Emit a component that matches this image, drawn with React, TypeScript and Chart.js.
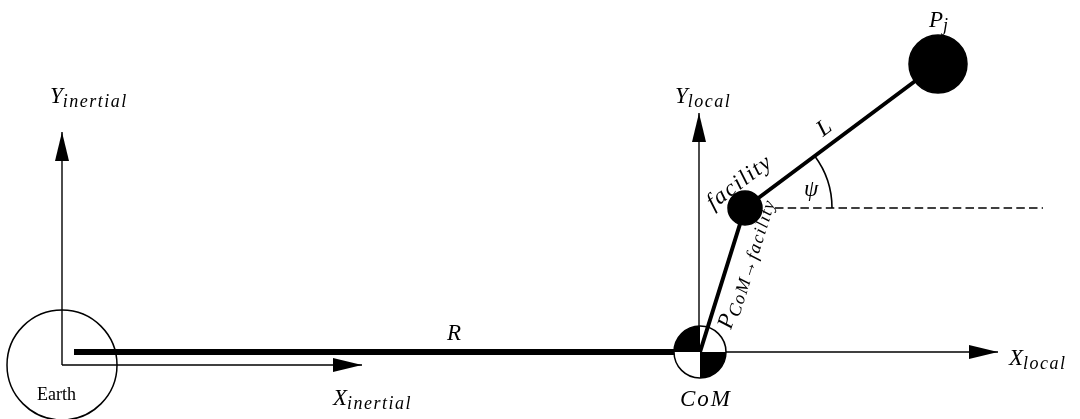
import React, { useEffect, useRef } from 'react';
import { Chart, registerables } from 'chart.js';
Chart.register(...registerables);

const W = 1080;
const H = 419;

// Diagram geometry (data units of the plot = page pixels)
const earthCenter = [{ x: 62, y: 365 }];
const earthRadius = 55;
const inertialYAxis = [{ x: 62, y: 365 }, { x: 62, y: 132 }];
const inertialXAxis = [{ x: 62, y: 365 }, { x: 362, y: 365 }];
const localYAxis = [{ x: 699, y: 352 }, { x: 699, y: 113 }];
const localXAxis = [{ x: 700, y: 352 }, { x: 998, y: 352 }];
const radiusLine = [{ x: 74, y: 352 }, { x: 700, y: 352 }];
const comCenter = [{ x: 700, y: 352 }];
const comRadius = 26;
const rodPath = [{ x: 700, y: 352 }, { x: 745, y: 208 }, { x: 938, y: 64 }];
const facilityCenter = [{ x: 745, y: 208 }];
const facilityRadius = 17;
const pjCenter = [{ x: 938, y: 64 }];
const pjRadius = 29;
const psiReference = [{ x: 775, y: 208 }, { x: 1043, y: 208 }];
const psiArcRadius = 87;

type Lbl = { main: string; sub?: string; x: number; y: number; along?: [number, number]; upright?: boolean; sp?: number };
// along: indexes into rodPath for the segment the text follows
const labels: Lbl[] = [
  { main: 'Y', sub: 'inertial', x: 50, y: 103 },
  { main: 'Y', sub: 'local', x: 675, y: 103 },
  { main: 'X', sub: 'inertial', x: 333, y: 405 },
  { main: 'X', sub: 'local', x: 1009, y: 365 },
  { main: 'R', x: 447, y: 340 },
  { main: 'CoM', x: 680, y: 406, sp: 2 },
  { main: 'P', sub: 'j', x: 929, y: 27 },
  { main: 'L', x: 823, y: 137, along: [1, 2] },
  { main: 'ψ', x: 804, y: 196 },
  { main: 'facility', x: 713, y: 210, along: [1, 2], sp: 1.5 },
  { main: 'P', sub: 'CoM→facility', x: 731, y: 330, along: [0, 1] },
  { main: 'Earth', x: 37, y: 400, upright: true },
];

const MAIN_FONT = "italic 23px 'Liberation Serif'";
const SUB_FONT = "italic 18px 'Liberation Serif'";
const UPRIGHT_FONT = "18px 'Liberation Serif'";

function radiusPx(chart: any, r: number) {
  const s = chart.scales.x;
  return Math.abs(s.getPixelForValue(r) - s.getPixelForValue(0));
}

const diagramPlugin = {
  id: 'diagram',
  beforeDatasetDraw(chart: any, args: any) {
    const ds = chart.data.datasets[args.index];
    if (ds.label !== 'rods') return;
    const { ctx } = chart;
    const cx = chart.scales.x.getPixelForValue(comCenter[0].x);
    const cy = chart.scales.y.getPixelForValue(comCenter[0].y);
    const r = radiusPx(chart, comRadius);
    ctx.save();
    ctx.beginPath();
    ctx.arc(cx, cy, r, 0, Math.PI * 2);
    ctx.fillStyle = '#fff';
    ctx.fill();
    ctx.fillStyle = '#000';
    ctx.beginPath();
    ctx.moveTo(cx, cy);
    ctx.arc(cx, cy, r, Math.PI, Math.PI * 1.5);
    ctx.closePath();
    ctx.fill();
    ctx.beginPath();
    ctx.moveTo(cx, cy);
    ctx.arc(cx, cy, r, 0, Math.PI * 0.5);
    ctx.closePath();
    ctx.fill();
    ctx.beginPath();
    ctx.arc(cx, cy, r, 0, Math.PI * 2);
    ctx.lineWidth = 1.5;
    ctx.strokeStyle = '#000';
    ctx.stroke();
    ctx.restore();
  },
  afterDatasetsDraw(chart: any) {
    const { ctx } = chart;
    const sx = chart.scales.x;
    const sy = chart.scales.y;
    const P = (p: { x: number; y: number }) => ({ x: sx.getPixelForValue(p.x), y: sy.getPixelForValue(p.y) });
    ctx.save();
    // arrowheads
    [inertialYAxis, inertialXAxis, localYAxis, localXAxis].forEach((a) => {
      const p0 = P(a[0]);
      const p1 = P(a[1]);
      const ang = Math.atan2(p1.y - p0.y, p1.x - p0.x);
      const len = 29;
      const hw = 7;
      ctx.save();
      ctx.translate(p1.x, p1.y);
      ctx.rotate(ang);
      ctx.beginPath();
      ctx.moveTo(0, 0);
      ctx.lineTo(-len, -hw);
      ctx.lineTo(-len, hw);
      ctx.closePath();
      ctx.fillStyle = '#000';
      ctx.fill();
      ctx.restore();
    });
    // psi arc
    const f = P(rodPath[1]);
    const pj = P(rodPath[2]);
    const rodAng = Math.atan2(pj.y - f.y, pj.x - f.x);
    ctx.beginPath();
    ctx.arc(f.x, f.y, radiusPx(chart, psiArcRadius), rodAng, 0);
    ctx.lineWidth = 1.6;
    ctx.strokeStyle = '#000';
    ctx.stroke();
    // labels
    ctx.fillStyle = '#000';
    ctx.textBaseline = 'alphabetic';
    ctx.textAlign = 'left';
    labels.forEach((l) => {
      const p = P(l);
      let ang = 0;
      if (l.along) {
        const a = P(rodPath[l.along[0]]);
        const b = P(rodPath[l.along[1]]);
        ang = Math.atan2(b.y - a.y, b.x - a.x);
      }
      ctx.save();
      ctx.translate(p.x, p.y);
      ctx.rotate(ang);
      ctx.font = l.upright ? UPRIGHT_FONT : MAIN_FONT;
      (ctx as any).letterSpacing = (l.sp ?? 0) + 'px';
      ctx.fillText(l.main, 0, 0);
      const w = ctx.measureText(l.main).width;
      if (l.sub) {
        ctx.font = SUB_FONT;
        (ctx as any).letterSpacing = '1.5px';
        ctx.fillText(l.sub, w, 4);
      }
      ctx.restore();
    });
    ctx.restore();
  },
};

const lineDs = (label: string, data: any[], width: number, order: number, extra: any = {}) => ({
  label,
  data,
  showLine: true,
  borderColor: '#000',
  borderWidth: width,
  pointRadius: 0,
  fill: false,
  order,
  clip: false,
  borderCapStyle: 'butt',
  ...extra,
});

const pointDs = (label: string, data: any[], r: number, fillColor: string, order: number) => ({
  label,
  data,
  showLine: false,
  pointRadius: (c: any) => radiusPx(c.chart, r),
  pointHoverRadius: (c: any) => radiusPx(c.chart, r),
  pointBackgroundColor: fillColor,
  pointBorderColor: '#000',
  pointBorderWidth: 1.5,
  order,
  clip: false,
});

export default function App() {
  const ref = useRef<HTMLCanvasElement>(null);
  useEffect(() => {
    if (!ref.current) return;
    const chart = new Chart(ref.current, {
      type: 'scatter',
      data: {
        datasets: [
          pointDs('earth', earthCenter, earthRadius, 'rgba(0,0,0,0)', 20),
          lineDs('yInertial', inertialYAxis, 1.4, 19),
          lineDs('xInertial', inertialXAxis, 1.4, 18),
          lineDs('yLocal', localYAxis, 1.4, 17),
          lineDs('xLocal', localXAxis, 1.4, 16),
          lineDs('R', radiusLine, 6, 15),
          lineDs('rods', rodPath, 4, 14, { borderJoinStyle: 'round' }),
          lineDs('psiRef', psiReference, 1.5, 13, { borderDash: [8.5, 4.2] }),
          pointDs('facility', facilityCenter, facilityRadius, '#000', 12),
          pointDs('pj', pjCenter, pjRadius, '#000', 11),
        ] as any,
      },
      options: {
        responsive: false,
        animation: false,
        devicePixelRatio: 1,
        events: [],
        layout: { padding: 0, autoPadding: false } as any,
        plugins: { legend: { display: false }, tooltip: { enabled: false } },
        scales: {
          x: { type: 'linear', min: 0, max: W, display: false },
          y: { type: 'linear', min: 0, max: H, reverse: true, display: false },
        },
      },
      plugins: [diagramPlugin],
    });
    return () => chart.destroy();
  }, []);
  return (
    <div style={{ position: 'fixed', left: 0, top: 0, width: W, height: H, background: '#fff' }}>
      <canvas ref={ref} width={W} height={H} style={{ display: 'block' }} />
    </div>
  );
}
